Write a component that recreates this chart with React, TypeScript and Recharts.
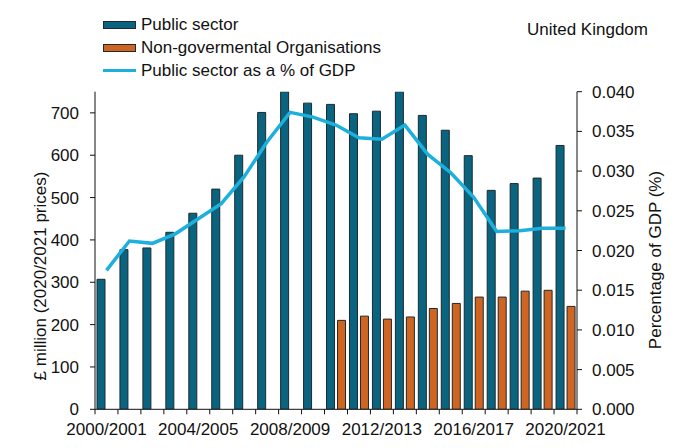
import React from 'react';
import { ComposedChart, Bar, Line, XAxis, YAxis } from 'recharts';

const categories = [
  '2000/2001', '2001/2002', '2002/2003', '2003/2004', '2004/2005', '2005/2006', '2006/2007',
  '2007/2008', '2008/2009', '2009/2010', '2010/2011', '2011/2012', '2012/2013', '2013/2014',
  '2014/2015', '2015/2016', '2016/2017', '2017/2018', '2018/2019', '2019/2020', '2020/2021',
];
const publicSector = [307, 377, 381, 418, 463, 520, 600, 701, 750, 723, 720, 698, 704, 750, 694, 659, 599, 517, 533, 546, 623];
const ngo = [null, null, null, null, null, null, null, null, null, null, 210, 220, 213, 218, 238, 250, 265, 265, 279, 281, 243];
const gdpPct = [0.0175, 0.0212, 0.0209, 0.0221, 0.024, 0.0259, 0.0293, 0.0337, 0.0374, 0.0368, 0.0358, 0.0342, 0.034, 0.0358, 0.0321, 0.0298, 0.0267, 0.0224, 0.0225, 0.0228, 0.0228];
const xTickLabels = ['2000/2001', '2004/2005', '2008/2009', '2012/2013', '2016/2017', '2020/2021'];
const leftTicks = [0, 100, 200, 300, 400, 500, 600, 700];
const rightTicks = [0, 0.005, 0.01, 0.015, 0.02, 0.025, 0.03, 0.035, 0.04];

const seriesNames = ['Public sector', 'Non-govermental Organisations', 'Public sector as a % of GDP'];
const TEAL = '#0a6480';
const ORANGE = '#cf6520';
const LINE = '#1eb0dc';
const EDGE = '#1d2a30';
const FONT = '"Liberation Sans", Arial, sans-serif';
const TEXT = '#111';

const data = categories.map((c, i) => ({
  year: c,
  publicSector: publicSector[i],
  ngo: ngo[i],
  pct: gdpPct[i],
}));

const W = 680;
const H = 448;
const PLOT_LEFT = 95;
const PLOT_RIGHT = 577;
const PLOT_TOP = 91.7;
const PLOT_BOTTOM = 409.3;
const X_TICK_SIZE = 5;
const X_TICK_MARGIN = 9;

function XTick(props: any) {
  const { x, y, payload } = props;
  const idx = categories.indexOf(String(payload.value));
  const half =
    typeof payload?.offset === 'number' && payload.offset > 0
      ? payload.offset
      : (PLOT_RIGHT - PLOT_LEFT) / categories.length / 2;
  const axisY = y - X_TICK_SIZE - X_TICK_MARGIN;
  const show = xTickLabels.includes(String(payload.value));
  return (
    <g>
      <line x1={x - half} x2={x - half} y1={axisY} y2={axisY + X_TICK_SIZE} stroke={TEXT} strokeWidth={1} />
      {idx === categories.length - 1 && (
        <line x1={x + half} x2={x + half} y1={axisY} y2={axisY + X_TICK_SIZE} stroke={TEXT} strokeWidth={1} />
      )}
      {show && (
        <text x={x} y={y} dy="0.71em" textAnchor="middle" fill={TEXT} fontSize={17} fontFamily={FONT}>
          {String(payload.value)}
        </text>
      )}
    </g>
  );
}

const LeftTitle = (p: any) => {
  const vb = p.viewBox || {};
  const cx = vb.x + vb.width / 2 - 7.5;
  const cy = vb.y + vb.height / 2 + 25.5;
  return (
    <text
      transform={`translate(${cx},${cy}) rotate(-90)`}
      textAnchor="middle"
      dominantBaseline="central"
      fill={TEXT}
      fontSize={17}
      fontFamily={FONT}
    >
      £ million (2020/2021 prices)
    </text>
  );
};

const RightTitle = (p: any) => {
  const vb = p.viewBox || {};
  const cx = vb.x + vb.width / 2 + 26.5;
  const cy = vb.y + vb.height / 2 + 9.5;
  return (
    <text
      transform={`translate(${cx},${cy}) rotate(-90)`}
      textAnchor="middle"
      dominantBaseline="central"
      fill={TEXT}
      fontSize={17}
      fontFamily={FONT}
    >
      Percentage of GDP (%)
    </text>
  );
};

export default function App() {
  const tickStyle = { fontSize: 17, fontFamily: FONT, fill: TEXT };
  return (
    <div style={{ position: 'absolute', left: 0, top: 0, width: W, height: H, background: '#fff', fontFamily: FONT }}>
      <ComposedChart
        width={W}
        height={H}
        data={data}
        margin={{ top: PLOT_TOP, right: 0, bottom: 0, left: 0 }}
        barSize={8}
        barGap={3}
      >
        <XAxis
          dataKey="year"
          xAxisId="x"
          interval={0}
          height={H - PLOT_BOTTOM}
          tickLine={false}
          tickSize={X_TICK_SIZE}
          tickMargin={X_TICK_MARGIN}
          axisLine={{ stroke: TEXT, strokeWidth: 1 }}
          tick={<XTick />}
        />
        <YAxis
          yAxisId="left"
          orientation="left"
          width={PLOT_LEFT}
          domain={[0, 750]}
          ticks={leftTicks}
          interval={0}
          allowDataOverflow
          tickSize={5}
          tickMargin={11}
          axisLine={{ stroke: TEXT, strokeWidth: 1 }}
          tickLine={{ stroke: TEXT, strokeWidth: 1 }}
          tick={tickStyle}
          label={{ content: LeftTitle }}
        />
        <YAxis
          yAxisId="right"
          orientation="right"
          width={W - PLOT_RIGHT}
          domain={[0, 0.04]}
          ticks={rightTicks}
          interval={0}
          allowDataOverflow
          tickSize={5}
          tickMargin={10}
          tickFormatter={(v: number) => v.toFixed(3)}
          axisLine={{ stroke: TEXT, strokeWidth: 1 }}
          tickLine={{ stroke: TEXT, strokeWidth: 1 }}
          tick={tickStyle}
          label={{ content: RightTitle }}
        />
        <Bar
          xAxisId="x"
          yAxisId="left"
          dataKey="publicSector"
          name={seriesNames[0]}
          fill={TEAL}
          stroke={EDGE}
          strokeWidth={1}
          isAnimationActive={false}
        />
        <Bar
          xAxisId="x"
          yAxisId="left"
          dataKey="ngo"
          name={seriesNames[1]}
          fill={ORANGE}
          stroke={EDGE}
          strokeWidth={1}
          isAnimationActive={false}
        />
        <Line
          xAxisId="x"
          yAxisId="right"
          dataKey="pct"
          name={seriesNames[2]}
          type="linear"
          stroke={LINE}
          strokeWidth={3.5}
          dot={false}
          activeDot={false}
          isAnimationActive={false}
        />
      </ComposedChart>

      <div style={{ position: 'absolute', left: 103, top: 13, fontSize: 17, color: TEXT, lineHeight: '23px' }}>
        {seriesNames.map((n, i) => (
          <div key={n} style={{ display: 'flex', alignItems: 'center', height: 23, whiteSpace: 'nowrap' }}>
            {i < 2 ? (
              <span
                style={{
                  display: 'inline-block',
                  width: 33,
                  height: 8,
                  boxSizing: 'border-box',
                  border: `1px solid ${EDGE}`,
                  background: i === 0 ? TEAL : ORANGE,
                  marginRight: 5,
                }}
              />
            ) : (
              <span style={{ display: 'inline-block', width: 33, height: 3.5, background: LINE, marginRight: 5 }} />
            )}
            <span>{n}</span>
          </div>
        ))}
      </div>

      <div style={{ position: 'absolute', left: 527, top: 20, fontSize: 17, lineHeight: '20px', color: TEXT, whiteSpace: 'nowrap' }}>
        United Kingdom
      </div>
    </div>
  );
}
